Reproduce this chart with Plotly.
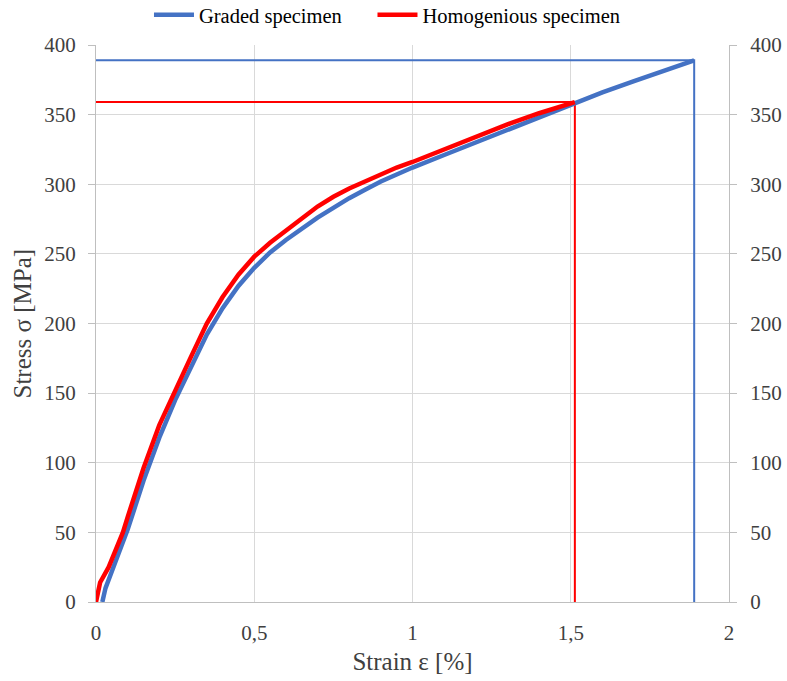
import plotly.graph_objects as go

# Graded specimen (blue)
graded_strain = [0.02, 0.03, 0.06, 0.10, 0.15, 0.20, 0.25, 0.30, 0.35, 0.40, 0.45, 0.50,
                 0.55, 0.60, 0.65, 0.70, 0.75, 0.80, 0.85, 0.90, 0.95, 1.0, 1.1, 1.2, 1.3, 1.4, 1.5,
                 1.6, 1.7, 1.8, 1.89]
graded_stress = [0, 10, 28, 52, 87, 118, 145, 169, 192, 211, 227, 240,
                 251, 260, 268, 276, 283, 290, 296, 302, 307, 312, 321, 330, 339, 348, 357,
                 366, 374, 382, 389]

# Homogenious specimen (red)
homog_strain = [0.0, 0.013, 0.04, 0.065, 0.085, 0.10, 0.15, 0.20, 0.25, 0.30, 0.35, 0.40, 0.45, 0.50,
                0.55, 0.60, 0.65, 0.70, 0.75, 0.80, 0.85, 0.90, 0.95, 1.0, 1.1, 1.2, 1.3, 1.4, 1.513]
homog_stress = [0, 14, 25, 38, 50, 61, 96, 127, 152, 176, 200, 219, 235, 248,
                258, 267, 276, 284, 291, 297, 302, 307, 312, 316, 325, 334, 343, 351, 359]

x_tickvals = [0, 0.5, 1, 1.5, 2]
x_ticktext = ["0", "0,5", "1", "1,5", "2"]
y_tickvals = [0, 50, 100, 150, 200, 250, 300, 350, 400]

BLUE = "#4472C4"
RED = "#FF0000"
FONT = "Liberation Serif"
TXT = "#404040"
PAD = "\u00a0" * 5

fig = go.Figure()

# ultimate-stress marker lines
for s, e, c in [(graded_strain, graded_stress, BLUE), (homog_strain, homog_stress, RED)]:
    fig.add_trace(go.Scatter(x=[0, s[-1], s[-1]], y=[e[-1], e[-1], 0], mode="lines",
                             line=dict(color=c, width=2), showlegend=False, hoverinfo="skip"))

fig.add_trace(go.Scatter(x=graded_strain, y=graded_stress, mode="lines", name="Graded specimen" + PAD,
                         line=dict(color=BLUE, width=4.5)))
fig.add_trace(go.Scatter(x=homog_strain, y=homog_stress, mode="lines", name="Homogenious specimen",
                         line=dict(color=RED, width=4.5)))
# invisible trace for right axis
fig.add_trace(go.Scatter(x=[0], y=[0], yaxis="y2", mode="markers", marker=dict(opacity=0),
                         showlegend=False, hoverinfo="skip"))

fig.update_layout(
    width=787, height=681,
    margin=dict(l=96, r=58, t=45, b=79, autoexpand=False),
    paper_bgcolor="white", plot_bgcolor="white",
    font=dict(family=FONT, size=20, color=TXT),
    showlegend=True,
    legend=dict(orientation="h", xref="paper", yref="paper", x=0.0837, xanchor="left",
                y=1.0898, yanchor="top", font=dict(family=FONT, size=20.5, color="#000000"),
                itemwidth=40, tracegroupgap=0, bgcolor="rgba(0,0,0,0)"),
    xaxis=dict(range=[0, 2], tickvals=x_tickvals, ticktext=x_ticktext, automargin=False,
               showgrid=True, gridcolor="#d9d9d9", gridwidth=1,
               showline=True, linecolor="#bfbfbf", linewidth=1, zeroline=False,
               ticks="", ticklabelstandoff=12,
               title=dict(text="Strain ε [%]", font=dict(family=FONT, size=25, color=TXT), standoff=8),
               tickfont=dict(family=FONT, size=21, color=TXT)),
    yaxis=dict(range=[0, 400], tickvals=y_tickvals, automargin=False,
               showgrid=True, gridcolor="#d9d9d9", gridwidth=1,
               showline=True, linecolor="#bfbfbf", linewidth=1, zeroline=False,
               ticks="outside", ticklen=7, tickcolor="#bfbfbf", ticklabelstandoff=8,
               tickfont=dict(family=FONT, size=21, color=TXT)),
    yaxis2=dict(range=[0, 400], tickvals=y_tickvals, overlaying="y", side="right", automargin=False,
                showgrid=False, showline=True, linecolor="#bfbfbf", linewidth=1, zeroline=False,
                ticks="outside", ticklen=7, tickcolor="#bfbfbf", ticklabelstandoff=9,
                tickfont=dict(family=FONT, size=21, color=TXT)),
    annotations=[dict(text="Stress σ [MPa]", xref="paper", yref="paper",
                      x=(22 - 96) / 633, y=0.5, xanchor="center", yanchor="middle",
                      textangle=-90, showarrow=False,
                      font=dict(family=FONT, size=25, color=TXT))],
)

fig.write_html("out.html", config={"displayModeBar": False},
               post_script="document.body.style.margin='0';")
